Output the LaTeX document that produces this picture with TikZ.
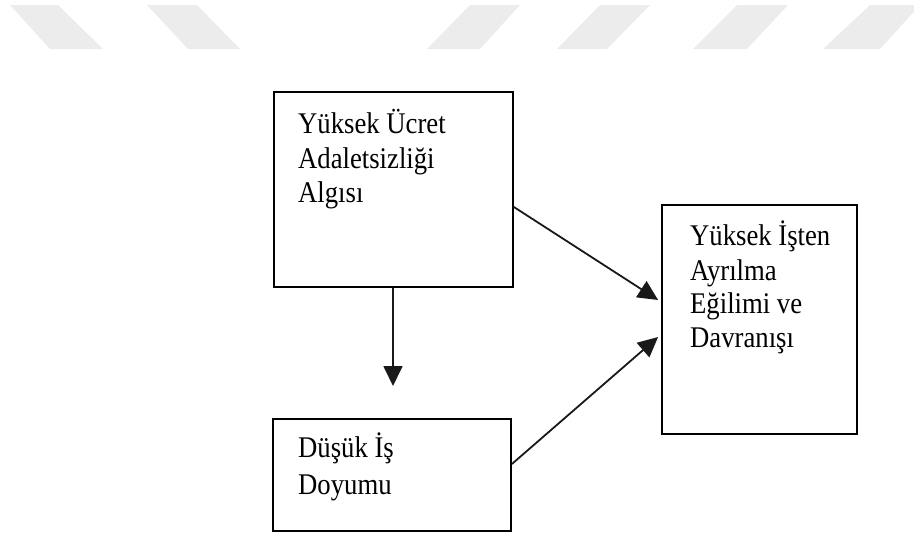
\documentclass[tikz,border=0pt]{standalone}
\usepackage{fontspec}
\setmainfont{Liberation Serif}
\usetikzlibrary{arrows.meta}
\definecolor{stripe}{RGB}{236,236,236}
\tikzset{
  box/.style={draw=black, line width=1.8pt, rectangle, inner sep=0pt},
  lbl/.style={anchor=base west, inner sep=0pt, xscale=0.89, transform shape, font=\fontsize{30pt}{36pt}\selectfont},
  conn/.style={line width=1.8pt, draw=black!90, -{Triangle[length=20pt,width=19pt]}},
  wm/.style={fill=stripe, draw=none}
}
\begin{document}
\begin{tikzpicture}[x=1pt,y=-1pt]
\useasboundingbox (0,0) rectangle (914,538);
\begin{scope}
\clip (0,0) rectangle (914,538);
\fill[wm] (10,5) -- (58,5) -- (103,49) -- (50,49) -- cycle;
\fill[wm] (147,5) -- (197,5) -- (240,49) -- (188,49) -- cycle;
\fill[wm] (470,5) -- (520,5) -- (480,49) -- (427,49) -- cycle;
\fill[wm] (600,5) -- (650,5) -- (607,49) -- (557,49) -- cycle;
\fill[wm] (737,5) -- (788,5) -- (747,49) -- (693,49) -- cycle;
\fill[wm] (870,5) -- (920,5) -- (880,49) -- (823,49) -- cycle;
\end{scope}
% boxes
\node[box, minimum width=239pt, minimum height=195pt] (A) at (393.5,189.5) {};
\node[box, minimum width=238pt, minimum height=112pt] (B) at (392,475) {};
\node[box, minimum width=195pt, minimum height=229pt] (C) at (759.5,319.5) {};
% texts
\node[lbl] (a1) at (298,133) {Yüksek Ücret};
\node[lbl] (a2) at (298,168) {Adaletsizliği};
\node[lbl] (a3) at (298,202) {Algısı};
\node[lbl] (b1) at (298,457) {Düşük İş};
\node[lbl] (b2) at (298,494) {Doyumu};
\node[lbl] (c1) at (690,245) {Yüksek İşten};
\node[lbl] (c2) at (690,280) {Ayrılma};
\node[lbl] (c3) at (690,313) {Eğilimi ve};
\node[lbl] (c4) at (690,347) {Davranışı};
% connectors
\coordinate (down) at (393,386);
\draw[conn] (A.south -| down) -- (down);
\draw[conn] ([yshift=-17.5pt]A.east) -- ([xshift=-3pt,yshift=19.5pt]C.west);
\draw[conn] ([yshift=11pt]B.east) -- ([xshift=-3pt,yshift=-17.5pt]C.west);
\end{tikzpicture}
\end{document}
